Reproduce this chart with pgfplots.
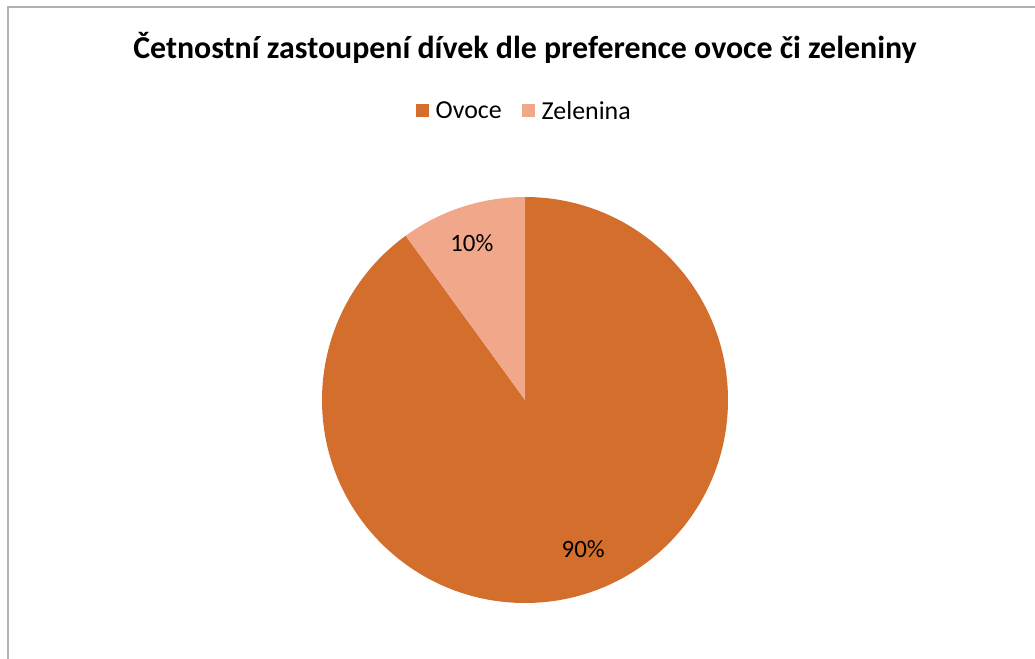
\documentclass[border=0pt]{standalone}
\usepackage{pgfplots}
\usepackage{pgfplotstable}
\usepackage{fontspec}
\setmainfont{Carlito}
\pgfplotsset{compat=1.18}
\definecolor{ovoce}{HTML}{D36E2C}
\definecolor{zelenina}{HTML}{F1A88A}

% podíly v procentech
\pgfplotstableread{
druh podil
Ovoce 90
Zelenina 10
}\pietab

\begin{document}
\begin{tikzpicture}
\useasboundingbox (0bp,0bp) rectangle (1035bp,659bp);
\draw[line width=2bp, black!30] (7.5bp,0bp) -- (7.5bp,651.5bp) -- (1035bp,651.5bp);
\node[font=\bfseries\fontsize{32}{38}\selectfont] at (525bp,611bp) {Četnostní zastoupení dívek dle preference ovoce či zeleniny};

\pgfplotstablegetelem{0}{podil}\of\pietab \let\pA\pgfplotsretval
\pgfplotstablegetelem{1}{podil}\of\pietab \let\pB\pgfplotsretval

\begin{axis}[
  at={(525bp,259bp)}, anchor=center,
  scale only axis, width=406bp, height=406bp,
  xmin=-1, xmax=1, ymin=-1, ymax=1,
  hide axis, clip=false,
  legend columns=2,
  legend style={draw=none, fill=none, at={(0.498,1.212)}, anchor=center,
    font=\fontsize{26}{30}\selectfont,
    /tikz/every odd column/.append style={column sep=5bp},
    /tikz/every even column/.append style={column sep=18bp}},
  legend image code/.code={\path[#1, draw=none] (0bp,-6.5bp) rectangle (13bp,6.5bp);},
]
\addlegendimage{fill=ovoce}
\addlegendentry{Ovoce}
\addlegendimage{fill=zelenina}
\addlegendentry{Zelenina}

\fill[ovoce] (axis cs:0,0) -- (axis cs:0,1)
  arc[start angle=90, delta angle=-3.6*\pA, radius=203bp] -- cycle;
\fill[zelenina] (axis cs:0,0) -- (axis cs:{cos(90-3.6*\pA)},{sin(90-3.6*\pA)})
  arc[start angle=90-3.6*\pA, delta angle=-3.6*\pB, radius=203bp] -- cycle;

\node[font=\fontsize{25}{30}\selectfont, xshift=8bp, yshift=5bp] at (axis cs:{0.8*cos(90-1.8*\pA)},{0.8*sin(90-1.8*\pA)}) {\pA\%};
\node[font=\fontsize{25}{30}\selectfont, xshift=-3bp, yshift=2bp] at (axis cs:{0.8*cos(90-3.6*\pA-1.8*\pB)},{0.8*sin(90-3.6*\pA-1.8*\pB)}) {\pB\%};
\end{axis}
\end{tikzpicture}
\end{document}
